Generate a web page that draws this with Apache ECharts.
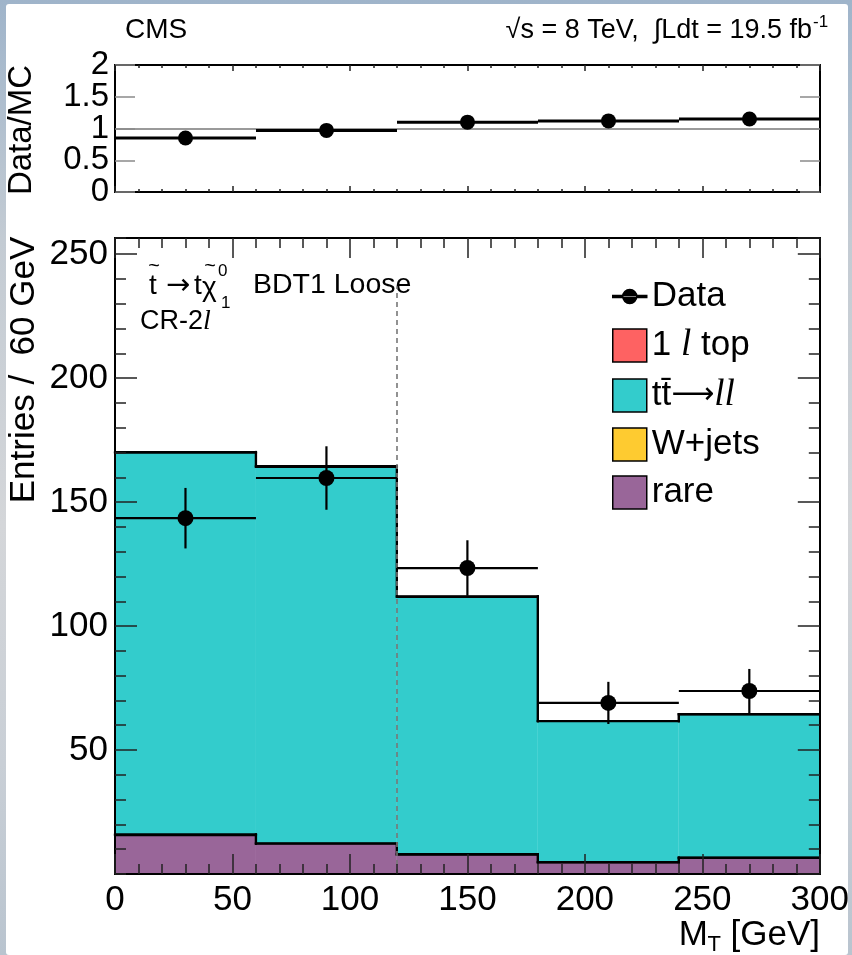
<!DOCTYPE html>
<html><head><meta charset="utf-8">
<script src="https://cdn.jsdelivr.net/npm/echarts@6/dist/echarts.min.js"></script>
<style>
html,body{margin:0;padding:0;width:852px;height:955px;overflow:hidden;}
body{background:linear-gradient(180deg,#9fb4ca 0%,#c3cbd3 25%,#d4d6d9 55%,#c9cfd6 80%,#b9c4cf 100%);}
#panel{position:absolute;left:6px;top:4px;width:842px;height:951px;background:#fff;border-radius:3px;}
#chart{position:absolute;left:0;top:0;width:852px;height:955px;}
</style></head><body><div id="panel"></div><div id="chart"></div>
<script>
// ---- data ----
const binEdges = [0, 60, 120, 180, 240, 300];
const rareVals = [15.7, 12.2, 7.8, 4.7, 6.5];
const wjetsVals = [0.3, 0.2, 0.2, 0.1, 0.1];
const ttllVals = [153.9, 151.8, 103.8, 56.8, 57.8];
const oneLepTopVals = [0.3, 0.3, 0.2, 0.1, 0.1];
const dataCounts = [143.5, 159.7, 123.4, 69.0, 73.8];
const dataErrs = [12.2, 12.8, 11.2, 8.5, 8.9];
const ratioVals = [0.85, 0.97, 1.10, 1.12, 1.15];
const ratioHalfTicks = [0.5, 1.5];
const cutValue = 120;
const cutLineTop = 237;
const legendNames = ['Data', '1l top', 'tt̄→ll', 'W+jets', 'rare'];

const FONT = '"Liberation Sans", Arial, Helvetica, sans-serif';
const SERIF = '"Liberation Serif", "Times New Roman", serif';
const ARROWFONT = '"DejaVu Sans", sans-serif';

const stackLayers = [
  {name: 'rare', vals: rareVals, color: '#996699'},
  {name: 'W+jets', vals: wjetsVals, color: '#fecb30'},
  {name: 'tt̄→ll', vals: ttllVals, color: '#33cccc'},
  {name: '1l top', vals: oneLepTopVals, color: '#fe6262'}
];

function stackRender(color) {
  return function (params, api) {
    const x0 = api.value(0), x1 = api.value(1), lo = api.value(2), hi = api.value(3), prev = api.value(4);
    const a = api.coord([x0, hi]), b = api.coord([x1, lo]);
    const ch = [
      {type: 'rect', z2: 0, shape: {x: a[0], y: a[1], width: b[0] - a[0], height: b[1] - a[1]}, style: {fill: color}},
      {type: 'line', z2: 10, shape: {x1: a[0], y1: a[1], x2: b[0], y2: a[1]}, style: {stroke: '#000', lineWidth: 2.2, lineCap: 'square'}}
    ];
    if (prev >= 0) {
      const p = api.coord([x0, prev]);
      ch.push({type: 'line', z2: 10, shape: {x1: a[0], y1: p[1], x2: a[0], y2: a[1]}, style: {stroke: '#000', lineWidth: 2.2, lineCap: 'square'}});
    }
    return {type: 'group', children: ch};
  };
}

const series = [];
let base = rareVals.map(() => 0);
stackLayers.forEach(layer => {
  const tops = layer.vals.map((v, i) => base[i] + v);
  const items = layer.vals.map((v, i) => [binEdges[i], binEdges[i + 1], base[i], tops[i], i > 0 ? tops[i - 1] : -1]);
  series.push({
    type: 'custom', name: layer.name, xAxisIndex: 0, yAxisIndex: 0, z: 2, silent: true,
    itemStyle: {color: layer.color},
    encode: {x: [0, 1], y: [2, 3]},
    renderItem: stackRender(layer.color),
    data: items
  });
  base = tops;
});

const centers = dataCounts.map((v, i) => (binEdges[i] + binEdges[i + 1]) / 2);

// data error bars + cut line
series.push({
  type: 'custom', name: 'Data', xAxisIndex: 0, yAxisIndex: 0, z: 5, silent: true,
  itemStyle: {color: '#000'},
  encode: {x: [0, 1], y: 2},
  renderItem: function (params, api) {
    const x0 = api.value(0), x1 = api.value(1), y = api.value(2), e = api.value(3), xc = api.value(4);
    const l = api.coord([x0, y]), r = api.coord([x1, y]);
    const t = api.coord([xc, y + e]), bt = api.coord([xc, y - e]);
    return {type: 'group', children: [
      {type: 'line', shape: {x1: l[0], y1: l[1], x2: r[0], y2: r[1]}, style: {stroke: '#000', lineWidth: 2.2}},
      {type: 'line', shape: {x1: t[0], y1: t[1], x2: bt[0], y2: bt[1]}, style: {stroke: '#000', lineWidth: 2.2}}
    ]};
  },
  data: dataCounts.map((v, i) => [binEdges[i], binEdges[i + 1], v, dataErrs[i], centers[i]]),
  markLine: {
    silent: true, symbol: ['none', 'none'], label: {show: false},
    lineStyle: {color: '#777', width: 1.6, type: [5, 4]},
    data: [[{coord: [cutValue, 0]}, {coord: [cutValue, cutLineTop]}]]
  }
});
series.push({
  type: 'scatter', name: 'Data', xAxisIndex: 0, yAxisIndex: 0, z: 6, silent: true,
  symbol: 'circle', symbolSize: 16, itemStyle: {color: '#000', opacity: 1},
  data: dataCounts.map((v, i) => [centers[i], v])
});

// ratio panel
series.push({
  type: 'custom', name: 'ratio', xAxisIndex: 2, yAxisIndex: 4, z: 5, silent: true,
  itemStyle: {color: '#000'},
  encode: {x: [0, 1], y: 2},
  renderItem: function (params, api) {
    const l = api.coord([api.value(0), api.value(2)]), r = api.coord([api.value(1), api.value(2)]);
    return {type: 'line', shape: {x1: l[0], y1: l[1], x2: r[0], y2: r[1]}, style: {stroke: '#000', lineWidth: 3}};
  },
  data: ratioVals.map((v, i) => [binEdges[i], binEdges[i + 1], v]),
  markLine: {
    silent: true, symbol: ['none', 'none'], label: {show: false},
    lineStyle: {color: '#9a9a9a', width: 2, type: 'solid'},
    data: [{yAxis: 1}]
  }
});
series.push({
  type: 'scatter', name: 'ratioPts', xAxisIndex: 2, yAxisIndex: 4, z: 6, silent: true,
  symbol: 'circle', symbolSize: 15, itemStyle: {color: '#000', opacity: 1},
  data: ratioVals.map((v, i) => [centers[i], v])
});

const axisLine = {show: true, onZero: false, lineStyle: {color: '#000', width: 2}};
function xAx(grid, pos, labels, tickLen, minorLen) {
  return {
    type: 'value', gridIndex: grid, position: pos, min: 0, max: 300, interval: 50, z: 10,
    axisLine: axisLine,
    axisTick: {show: true, inside: true, length: tickLen, lineStyle: {color: '#222', width: 1.5}},
    minorTick: {show: true, splitNumber: 5, length: minorLen, lineStyle: {color: '#222', width: 1.5}},
    splitLine: {show: false}, minorSplitLine: {show: false},
    axisLabel: labels ? {show: true, fontSize: 35, fontFamily: FONT, color: '#000', margin: 9} : {show: false}
  };
}
function yAx(grid, pos, min, max, interval, labels, tickLen, tickColor) {
  return {
    type: 'value', gridIndex: grid, position: pos, min: min, max: max, interval: interval, z: 10,
    axisLine: axisLine,
    axisTick: {show: true, inside: true, length: tickLen, lineStyle: {color: tickColor, width: 1.5}},
    splitLine: {show: false},
    axisLabel: labels ? Object.assign({show: true, fontFamily: FONT, color: '#000', hideOverlap: false}, labels) : {show: false}
  };
}

const dataIcon = 'path://M0,0M34,33M0,15.6h34v1.8h-34z M10,16.5a7,7 0 1,0 14,0a7,7 0 1,0 -14,0z';

const legendFmt = {
  'Data': '{n|Data}',
  '1l top': '{n|1 }{i|l}{n| top}',
  'tt̄→ll': '{n|tt̄}{a|⟶}{i|ll}',
  'W+jets': '{n|W+jets}',
  'rare': '{n|rare}'
};

function txt(x, y, text, size, extra) {
  return Object.assign({type: 'text', x: x, y: y, silent: true,
    style: Object.assign({text: text, fontSize: size, fontFamily: FONT, fill: '#000', textVerticalAlign: 'middle'}, (extra && extra.style) || {})},
    extra && extra.rotation !== undefined ? {rotation: extra.rotation} : {});
}

const option = {
  animation: false,
  backgroundColor: 'transparent',
  grid: [
    {left: 115, top: 238, width: 705, height: 636},
    {left: 115, top: 65, width: 705, height: 127}
  ],
  xAxis: [
    xAx(0, 'bottom', true, 20, 10),
    xAx(0, 'top', false, 20, 10),
    xAx(1, 'bottom', false, 6, 3),
    xAx(1, 'top', false, 6, 3)
  ],
  yAxis: [
    yAx(0, 'left', 0, 256.5, 50, {fontSize: 35, margin: 7, showMinLabel: false, showMaxLabel: false}, 22, '#222'),
    yAx(0, 'left', 0, 256.5, 10, null, 11, '#222'),
    yAx(0, 'right', 0, 256.5, 50, null, 22, '#222'),
    yAx(0, 'right', 0, 256.5, 10, null, 11, '#222'),
    yAx(1, 'left', 0, 2, 1, {fontSize: 33, margin: 6, showMinLabel: true, showMaxLabel: true}, 20, '#8a8a8a'),
    yAx(1, 'right', 0, 2, 0.5, null, 20, '#8a8a8a'),
    yAx(1, 'left', 0, 2, 0.5, {fontSize: 33, margin: 6, interval: 0, showMinLabel: false, showMaxLabel: false,
      formatter: function (v) { return ratioHalfTicks.indexOf(v) >= 0 ? String(v) : ''; }}, 20, '#8a8a8a')
  ],
  legend: {
    left: 612, top: 279, orient: 'vertical', itemWidth: 34, itemHeight: 33, itemGap: 13,
    selectedMode: false, padding: 0,
    data: legendNames.map(n => n === 'Data' ? {name: n, icon: dataIcon} : {name: n, icon: 'rect'}),
    itemStyle: {borderColor: '#000', borderWidth: 1.5},
    formatter: function (name) { return legendFmt[name]; },
    textStyle: {
      color: '#000', fontSize: 35, fontFamily: FONT, lineHeight: 33,
      rich: {
        n: {fontSize: 35, fontFamily: FONT, color: '#000', lineHeight: 33},
        a: {fontSize: 30, fontFamily: ARROWFONT, color: '#000', lineHeight: 33},
        i: {fontSize: 37, fontFamily: SERIF, fontStyle: 'italic', color: '#000', lineHeight: 33}
      }
    }
  },
  graphic: {elements: [
    txt(125, 30, 'CMS', 28),
    txt(812, 31, '√s = 8 TeV,  ∫Ldt = 19.5 fb', 27, {style: {textAlign: 'right'}}),
    txt(813, 22, '-1', 17),
    txt(22, 130, 'Data/MC', 33, {rotation: Math.PI / 2, style: {textAlign: 'center'}}),
    txt(24, 370, 'Entries /  60 GeV', 35, {rotation: Math.PI / 2, style: {textAlign: 'center'}}),
    // decay annotation
    txt(149, 286, 't', 28),
    txt(154, 266, '~', 20, {style: {textAlign: 'center'}}),
    txt(166, 286, '→', 29, {style: {fontFamily: ARROWFONT}}),
    txt(194, 286, 't', 28),
    txt(202, 288, 'χ', 28),
    txt(210, 266, '~', 20, {style: {textAlign: 'center'}}),
    txt(218, 271, '0', 17),
    txt(221, 303, '1', 17),
    txt(253, 285, 'BDT1 Loose', 28.5),
    txt(140, 322, '{n|CR-2}{i|l}', 28, {style: {
      rich: {n: {fontSize: 27, fontFamily: FONT, fill: '#000'}, i: {fontSize: 28, fontFamily: SERIF, fontStyle: 'italic', fill: '#000'}}}}),
    // x title
    txt(820, 935, ' [GeV]', 35, {style: {textAlign: 'right'}}),
    txt(721, 945, 'T', 22, {style: {textAlign: 'right'}}),
    txt(708, 935, 'M', 35, {style: {textAlign: 'right'}})
  ]},
  series: series
};

const chart = echarts.init(document.getElementById('chart'), null, {renderer: 'canvas'});
chart.setOption(option);
</script>
</body></html>
